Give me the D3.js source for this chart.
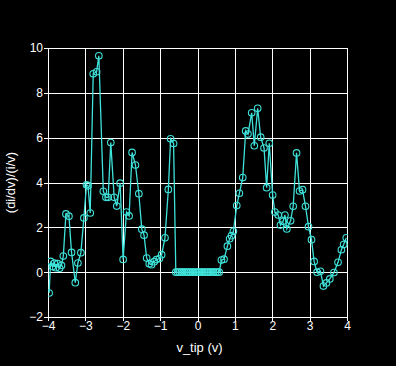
<!DOCTYPE html>
<html>
<head>
<meta charset="utf-8">
<script src="https://cdn.jsdelivr.net/npm/d3@7"></script>
<style>
  html, body { margin: 0; padding: 0; background: #000; }
  svg { display: block; }
  text { font-family: "Liberation Sans", Arial, sans-serif; fill: #fff; }
</style>
</head>
<body>
<svg id="chart"></svg>
<script>
// data
var vTip = [
  -3.97, -3.93, -3.88, -3.83, -3.79, -3.74, -3.69, -3.64, -3.59, -3.52,
  -3.44, -3.37, -3.27, -3.20, -3.12, -3.04, -2.97, -2.93, -2.87, -2.79,
  -2.70, -2.64, -2.52, -2.45, -2.39, -2.32, -2.23, -2.16, -2.07, -1.99,
  -1.90, -1.83, -1.75, -1.66, -1.57, -1.49, -1.43, -1.36, -1.29, -1.23,
  -1.16, -1.10, -1.02, -0.96, -0.87, -0.78, -0.72, -0.64,
  -0.58, -0.53, -0.48, -0.43, -0.39, -0.34, -0.29, -0.24, -0.19, -0.14,
  -0.10, -0.05, 0.00, 0.05, 0.10, 0.14, 0.19, 0.24, 0.29, 0.34,
  0.39, 0.43, 0.48, 0.53, 0.58,
  0.64, 0.71, 0.80, 0.86, 0.91, 0.96, 1.05, 1.12, 1.21, 1.29,
  1.35, 1.45, 1.52, 1.61, 1.69, 1.78, 1.85, 1.92, 2.01, 2.07,
  2.16, 2.22, 2.29, 2.34, 2.39, 2.49, 2.56, 2.65, 2.73, 2.81,
  2.89, 2.97, 3.05, 3.12, 3.20, 3.29, 3.37, 3.45, 3.54, 3.65,
  3.76, 3.85, 3.91, 3.98
];
var normCond = [
  -0.93, 0.48, 0.25, 0.40, 0.20, 0.38, 0.18, 0.30, 0.72, 2.60,
  2.50, 0.88, -0.47, 0.41, 0.87, 2.42, 3.90, 3.86, 2.64, 8.85,
  8.94, 9.65, 3.61, 3.34, 3.34, 5.78, 3.34, 2.95, 3.97, 0.57,
  2.68, 2.51, 5.34, 4.78, 3.50, 1.92, 1.65, 0.63, 0.38, 0.33,
  0.47, 0.56, 0.61, 0.78, 1.53, 3.69, 5.95, 5.74,
  0, 0, 0, 0, 0, 0, 0, 0, 0, 0,
  0, 0, 0, 0, 0, 0, 0, 0, 0, 0,
  0, 0, 0, 0, 0,
  0.54, 0.58, 1.16, 1.49, 1.63, 1.82, 2.97, 3.52, 4.22, 6.30,
  6.16, 7.11, 5.64, 7.31, 6.02, 5.54, 3.77, 5.75, 3.44, 2.68,
  2.55, 2.10, 2.27, 2.55, 1.93, 2.29, 2.94, 5.32, 3.62, 3.68,
  2.94, 2.03, 1.45, 0.48, 0.00, 0.04, -0.62, -0.48, -0.30, -0.02,
  0.44, 1.00, 1.23, 1.53
];
var xTicks = [-4, -3, -2, -1, 0, 1, 2, 3, 4];
var yTicks = [-2, 0, 2, 4, 6, 8, 10];

var W = 396, H = 366;
var margin = { top: 48, right: 49, bottom: 49, left: 48 };
var width = W - margin.left - margin.right;
var height = H - margin.top - margin.bottom;
var cyan = "#3fe2da";

var svg = d3.select("#chart").attr("width", W).attr("height", H);
svg.append("rect").attr("width", W).attr("height", H).attr("fill", "#000");

var g = svg.append("g").attr("transform", "translate(" + margin.left + "," + margin.top + ")");

var xScale = d3.scaleLinear().domain([-4, 4]).range([0, width]);
var yScale = d3.scaleLinear().domain([-2, 10]).range([height, 0]);

function minusFmt(d) { return d3.format("")(d).replace("-", "\u2212"); }

// grid + axes (ticks stick out 4px past the frame)
var xAxisGen = d3.axisBottom(xScale).tickValues(xTicks).tickSize(-height - 4).tickSizeOuter(0)
  .tickFormat(minusFmt);
var yAxisGen = d3.axisLeft(yScale).tickValues(yTicks).tickSize(-width - 4).tickSizeOuter(0)
  .tickFormat(minusFmt);

g.append("g")
  .attr("class", "x axis")
  .attr("transform", "translate(0," + (height + 4) + ")")
  .call(xAxisGen)
  .call(function (a) { a.select(".domain").remove(); })
  .call(function (a) {
    a.selectAll("line").attr("stroke", "#fff").attr("shape-rendering", "crispEdges");
    a.selectAll("text").attr("fill", "#fff").attr("font-size", 12).attr("y", 0).attr("dy", "0.78em")
      .attr("font-family", "Liberation Sans, Arial, sans-serif");
  });

g.append("g")
  .attr("class", "y axis")
  .attr("transform", "translate(-4,0)")
  .call(yAxisGen)
  .call(function (a) { a.select(".domain").remove(); })
  .call(function (a) {
    a.selectAll("line").attr("stroke", "#fff").attr("shape-rendering", "crispEdges");
    a.selectAll("text").attr("fill", "#fff").attr("font-size", 12).attr("x", -1)
      .attr("font-family", "Liberation Sans, Arial, sans-serif");
  });

g.append("rect")
  .attr("width", width).attr("height", height)
  .attr("fill", "none").attr("stroke", "#fff")
  .attr("shape-rendering", "crispEdges");

// series
var pts = vTip.map(function (v, i) { return { x: v, y: normCond[i] }; });

g.append("clipPath").attr("id", "clip")
  .append("rect").attr("width", width + 1).attr("height", height);

var plot = g.append("g").attr("clip-path", "url(#clip)");

plot.append("path")
  .datum(pts)
  .attr("fill", "none")
  .attr("stroke", cyan)
  .attr("stroke-width", 1.3)
  .attr("d", d3.line().x(function (d) { return xScale(d.x); }).y(function (d) { return yScale(d.y); }));

plot.selectAll("circle")
  .data(pts)
  .enter()
  .append("circle")
  .attr("cx", function (d) { return xScale(d.x); })
  .attr("cy", function (d) { return yScale(d.y); })
  .attr("r", 3.3)
  .attr("fill", "none")
  .attr("stroke", cyan)
  .attr("stroke-width", 1.1);

// axis titles
svg.append("text")
  .attr("x", margin.left + width / 2 + 2)
  .attr("y", 352)
  .attr("text-anchor", "middle")
  .attr("font-size", 13)
  .text("v_tip (v)");

svg.append("text")
  .attr("transform", "translate(15," + (margin.top + height / 2) + ") rotate(-90)")
  .attr("text-anchor", "middle")
  .attr("font-size", 13)
  .text("(di/dv)/(i/v)");
</script>
</body>
</html>
